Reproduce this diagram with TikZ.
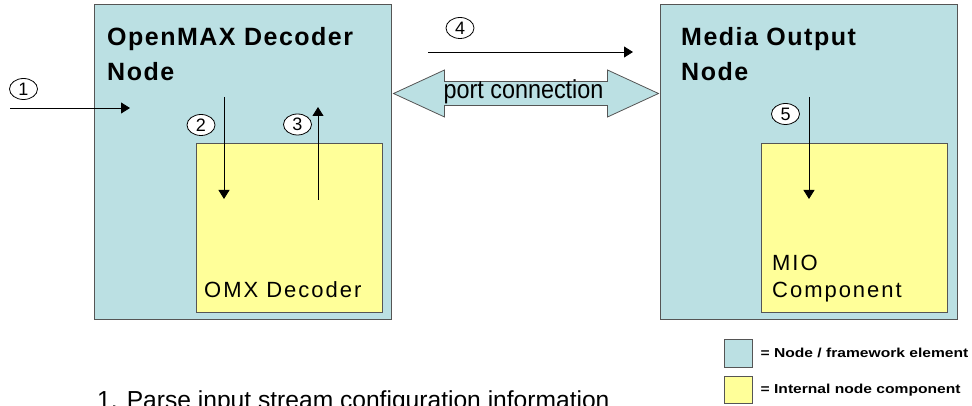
\documentclass[tikz,border=0pt]{standalone}
\usepackage{fontspec}
\setmainfont{Liberation Sans}
\newfontfamily\titlefont[LetterSpace=6]{Liberation Sans}
\newfontfamily\boxfont[LetterSpace=9]{Liberation Sans}
\usepackage{xcolor}
\usetikzlibrary{shapes,arrows.meta,positioning,calc}

\definecolor{nodeblue}{RGB}{187,224,227}
\definecolor{compyellow}{RGB}{255,255,153}
\definecolor{edgegray}{RGB}{85,85,85}

\begin{document}
\begin{tikzpicture}[x=1pt, y=-1pt,
	nodebox/.style={rectangle, draw=edgegray, fill=nodeblue, line width=1pt, minimum width=297pt, minimum height=314pt, inner sep=0pt},
	compbox/.style={rectangle, draw=edgegray, fill=compyellow, line width=1pt, minimum width=186pt, minimum height=168pt, inner sep=0pt},
	title/.style={font=\titlefont\bfseries\fontsize{25}{35}\selectfont, align=left, inner sep=0pt, anchor=north west},
	boxtext/.style={font=\boxfont\fontsize{22}{27}\selectfont, align=left, inner sep=0pt},
	num/.style={ellipse, draw=black, fill=white, line width=0.8pt, minimum width=28pt, minimum height=21pt, inner sep=0pt, font=\fontsize{18}{18}\selectfont},
	flow/.style={line width=0.9pt, -{Triangle[length=9pt,width=11pt]}},
	legend/.style={font=\bfseries\fontsize{13}{13}\selectfont, inner sep=0pt, anchor=west}]
				\useasboundingbox (0,0) rectangle (972,406);
				
				% the two nodes and what is inside them
				\node[nodebox] (dec) at (242.5,162) {};
				\node[nodebox] (mon) at (808.5,162) {};
				\node[compbox] (omx) at (289,228) {};
				\node[compbox] (mio) at (854.5,228) {};
				\node[title] (dectitle) at (107,27) {OpenMAX Decoder\\Node};
				\node[title] (montitle) at (681,27) {Media Output\\Node};
				\node[boxtext, anchor=base west] (omxlabel) at (204,297) {OMX Decoder};
				\node[boxtext, anchor=north west] (miolabel) at (772,255) {MIO\\Component};
				
				% port connection
				\coordinate (pl) at ($(dec.north east)+(2,89)$);
				\coordinate (pr) at ($(mon.north west)+(-1,89)$);
				\draw[edgegray, fill=nodeblue, line width=0.8pt, line join=miter]
					(pl) -- ++(51,-23.5) -- ++(0,11.5) -- ($(pr)+(-51,-12)$) -- ++(0,-11.5) -- (pr)
					-- ++(-51,23.5) -- ++(0,-11.5) -- ($(pl)+(51,12)$) -- ++(0,11.5) -- cycle;
				\node[font=\fontsize{26}{26}\selectfont, inner sep=0pt] (port) at (523.5,92) {\scalebox{0.9}[1]{port connection}};
				
				% numbered steps
				\node[num] (n1) at (23.5,89) {1};
				\node[num] (n2) at (201,125) {2};
				\node[num] (n3) at (297.5,124.5) {3};
				\node[num] (n4) at (460,28) {4};
				\node[num] (n5) at (785.5,114) {5};
				
				\coordinate (a1) at (10,108);
				\coordinate (b1) at (130,108);
				\coordinate (a2) at (224,97);
				\coordinate (b2) at (224,199);
				\coordinate (a3) at (318,200);
				\coordinate (b3) at (318,107);
				\coordinate (a4) at (428,52);
				\coordinate (b4) at (633,52);
				\coordinate (a5) at (809,97);
				\coordinate (b5) at (809,199);
				\draw[flow] (a1) -- (b1);
				\draw[flow] (a2) -- (b2);
				\draw[flow] (a3) -- (b3);
				\draw[flow] (a4) -- (b4);
				\draw[flow] (a5) -- (b5);
				
				% key
				\node[nodebox, minimum width=28pt, minimum height=28pt] (keynode) at (738,353) {};
				\node[compbox, minimum width=28pt, minimum height=27pt] (keycomp) at (738,390) {};
				\node[legend, right=8pt of keynode] (keynodetext) {\scalebox{1.2}[1]{= Node / framework element}};
				\node[legend, right=8pt of keycomp] (keycomptext) {\scalebox{1.2}[1]{= Internal node component}};
				
				\node[font=\fontsize{24.6}{30}\selectfont, inner sep=0pt, anchor=base west] (step1) at (97,408.6) {1. Parse input stream configuration information};
			\end{tikzpicture}
\end{document}
